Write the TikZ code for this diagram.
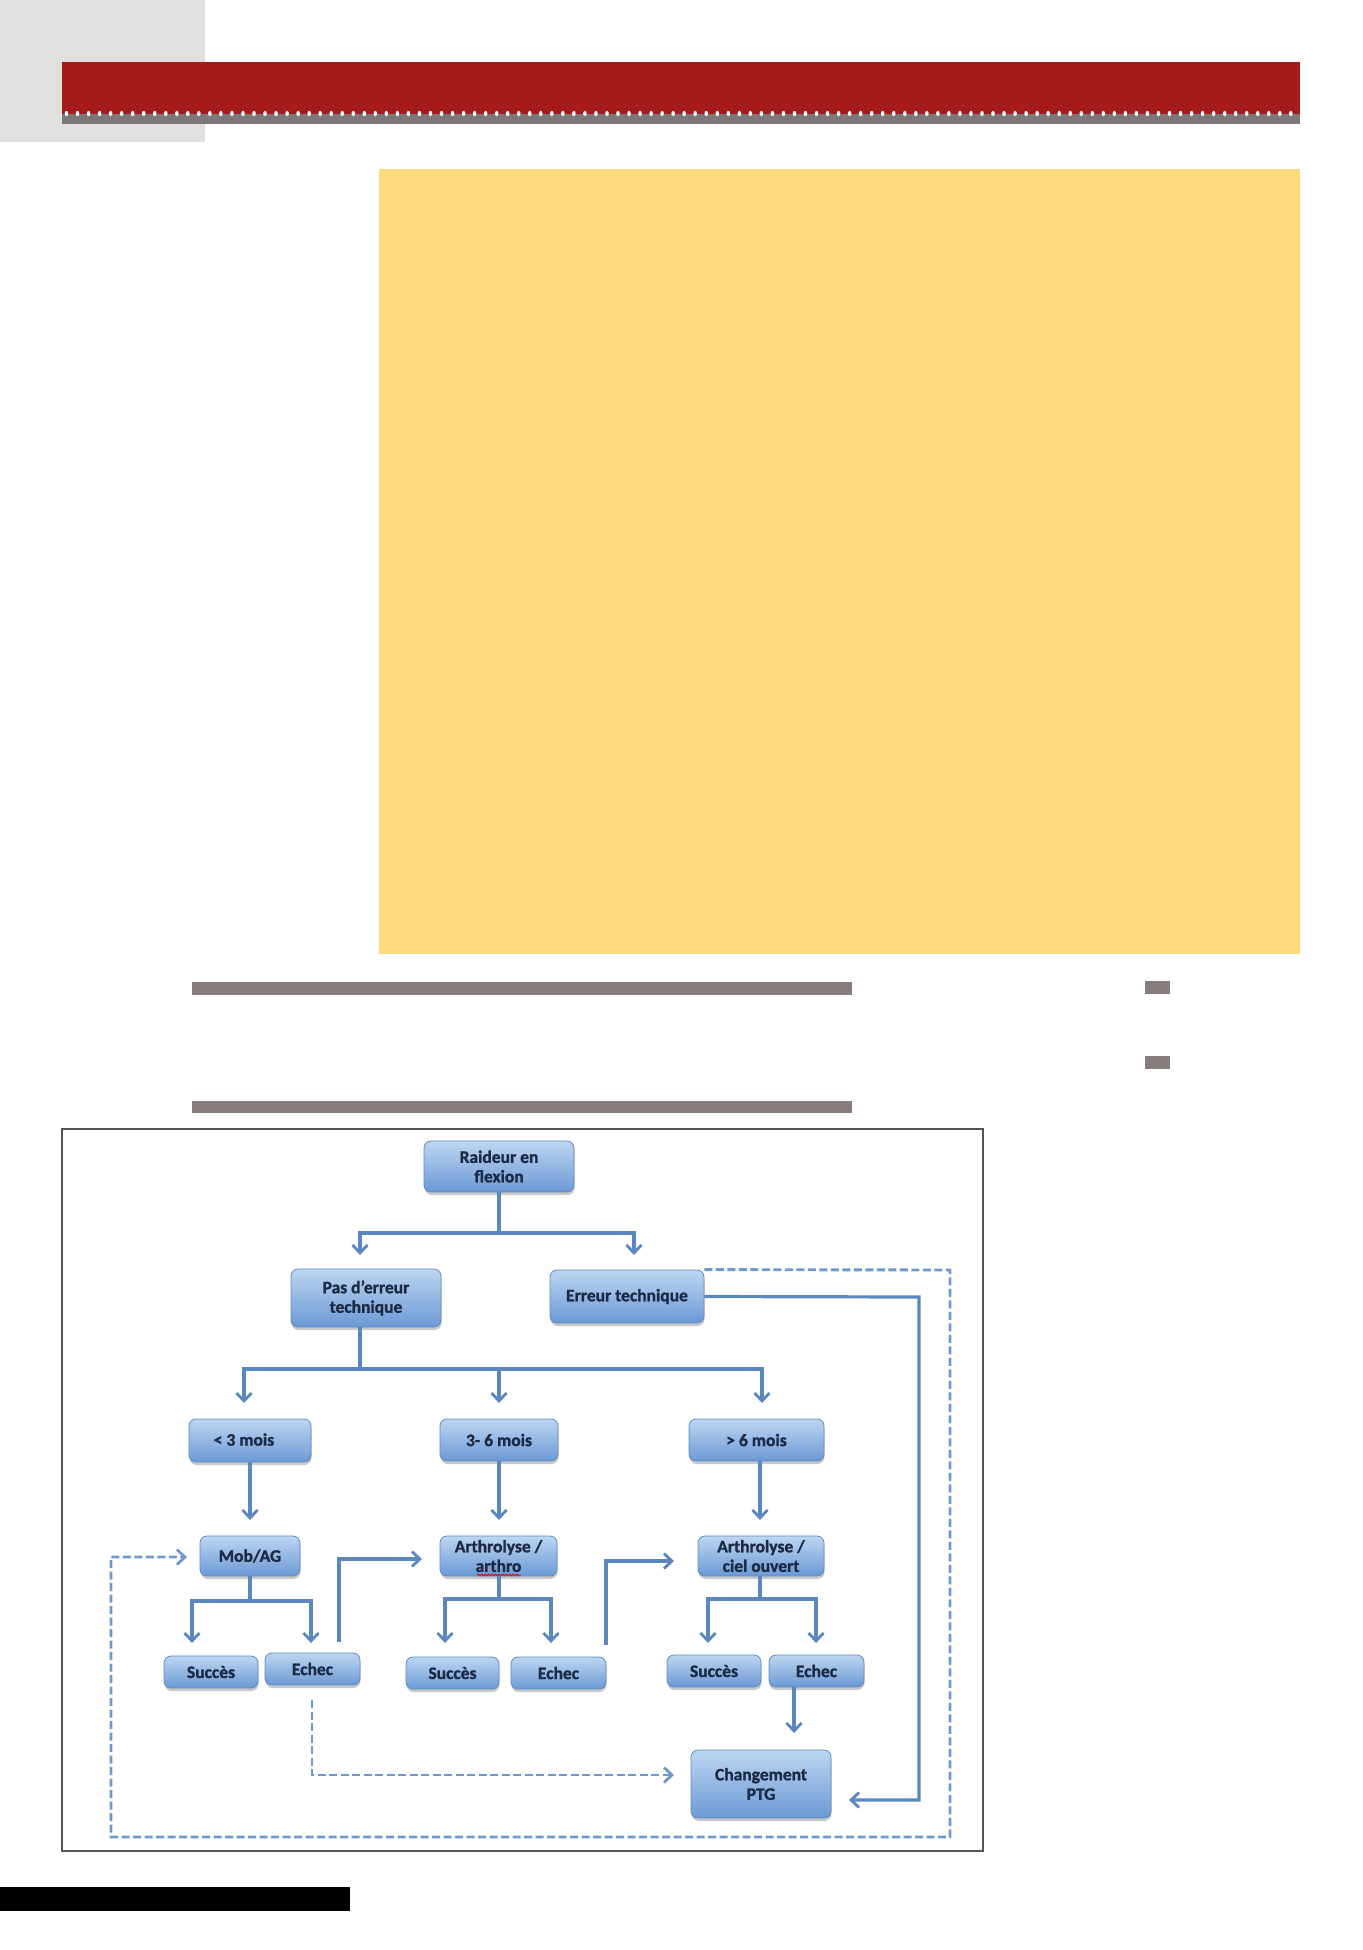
\documentclass[tikz,border=0pt]{standalone}
\usepackage{fontspec}
\setmainfont{Carlito}[FakeBold=1.3]
\usetikzlibrary{arrows.meta,shadows,decorations.pathmorphing}
\definecolor{hdrgray}{HTML}{E2DFDF}
\definecolor{hdrred}{HTML}{A51A1A}
\definecolor{stripgray}{HTML}{7D7777}
\definecolor{yellowbox}{HTML}{FDDA7E}
\definecolor{bargray}{HTML}{857C7B}
\definecolor{boxtop}{HTML}{BDD6F1}
\definecolor{boxbot}{HTML}{6B99D5}
\definecolor{boxedge}{HTML}{5E8AC2}
\definecolor{boxtext}{HTML}{1C2A45}
\definecolor{linec}{HTML}{5B87BF}
\definecolor{dashc}{HTML}{6F98CC}
\definecolor{framec}{HTML}{555555}
\begin{document}
\begin{tikzpicture}[x=1pt,y=-1pt,
  box/.style={rectangle, rounded corners=7pt, draw=boxedge, line width=0.8pt,
    top color=boxtop, bottom color=boxbot, text=boxtext,
    font=\fontsize{17.5}{19.5}\selectfont\bfseries, align=center, inner sep=0pt,
    drop shadow={shadow xshift=0.5pt, shadow yshift=-3pt, opacity=0.3, fill=black!70}},
  sz/.style 2 args={minimum width=#1pt, minimum height=#2pt},
  conn/.style={draw=linec, line width=3.2pt},
  arr/.style={conn, -{Straight Barb[length=8pt,width=15pt,line width=2.8pt]}},
  dashline/.style={draw=dashc, line width=2.9pt, dash pattern=on 8pt off 3.5pt,
    -{Straight Barb[length=8pt,width=15pt,line width=2.8pt]}}
]
\useasboundingbox (0,0) rectangle (1362,1950);
% page decorations
\fill[hdrgray] (0,0) rectangle (205,142);
\fill[hdrred] (62,62) rectangle (1300,114);
\fill[stripgray] (62,114) rectangle (1300,124);
\foreach \i in {0,...,111} \fill[white] (66.5+\i*11.03,113.5) ellipse (1.8 and 2.6);
\fill[yellowbox] (379,169) rectangle (1300,954);
\fill[bargray] (192,982) rectangle (852,995);
\fill[bargray] (192,1101) rectangle (852,1113);
\fill[bargray] (1145,981) rectangle (1170,994);
\fill[bargray] (1145,1056) rectangle (1170,1069);
\fill[black] (0,1887) rectangle (350,1911);
% frame
\draw[framec, line width=1.2pt] (62,1129) rectangle (983,1851);
% nodes
\node[box, sz={150}{51}] (raideur) at (499,1166.5) {Raideur en\\flexion};
\node[box, sz={150}{58}] (pas) at (366,1298) {Pas d’erreur\\technique};
\node[box, sz={154}{53}] (erreur) at (627,1296.5) {Erreur technique};
\node[box, sz={122}{43}] (m3) at (250,1440.5) {\raisebox{2pt}{< 3 mois}\hspace*{12pt}};
\node[box, sz={118}{42}] (m36) at (499,1440) {3- 6 mois};
\node[box, sz={135}{42}] (m6) at (756.5,1440) {> 6 mois};
\node[box, sz={100}{40}] (mob) at (250,1556) {Mob/AG};
\node[box, sz={117}{40}] (arth) at (498.5,1556) {Arthrolyse /\\arthro};
\node[box, sz={126}{40}] (ciel) at (761,1556) {Arthrolyse /\\ciel ouvert};
\node[box, sz={94}{32}] (s1) at (211,1672) {Succès};
\node[box, sz={95}{32}] (e1) at (312.5,1669) {Echec};
\node[box, sz={93}{32}] (s2) at (452.5,1673) {Succès};
\node[box, sz={95}{32}] (e2) at (558.5,1673) {Echec};
\node[box, sz={94}{32}] (s3) at (714,1671) {Succès};
\node[box, sz={95}{32}] (e3) at (816.5,1671) {Echec};
\node[box, sz={140}{68}] (ptg) at (761,1784) {Changement\\PTG};
% spell-check squiggle under "arthro"
\draw[red!85!black, line width=0.8pt, decorate, decoration={snake, amplitude=0.9pt, segment length=3.5pt}] (477,1575) -- (521,1575);
% coordinates
\coordinate (r-j) at (499,1233);
\coordinate (pas-in) at (360,1255);
\coordinate (err-in) at (634,1255);
\coordinate (p-j) at (360,1369);
\coordinate (m3-in) at (244,1403);
\coordinate (m36-in) at (499,1403);
\coordinate (m6-in) at (762,1403);
\coordinate (mob-in) at (250,1520);
\coordinate (arth-in) at (499,1520);
\coordinate (ciel-in) at (760,1520);
\coordinate (mb-j) at (250,1601);
\coordinate (s1-in) at (192,1643);
\coordinate (e1-in) at (311,1643);
\coordinate (ar-j) at (499,1599);
\coordinate (s2-in) at (445,1643);
\coordinate (e2-in) at (551,1643);
\coordinate (ci-j) at (760,1599);
\coordinate (s3-in) at (708,1643);
\coordinate (e3-in) at (816,1643);
\coordinate (e1-out) at (339,1642);
\coordinate (arth-left) at (422,1559);
\coordinate (e2-out) at (606,1645);
\coordinate (ciel-left) at (674,1561);
\coordinate (e3-down) at (794,1733);
\coordinate (er-c1) at (919,1297);
\coordinate (ptg-r) at (849,1800);
\coordinate (dl1) at (950,1270);
\coordinate (dl2) at (111,1837);
\coordinate (mob-left) at (187,1557);
\coordinate (e1-d) at (312,1700);
\coordinate (ptg-dl) at (674,1775);
% connectors
\draw[conn] (raideur.south) -- (r-j);
\draw[arr] (r-j) -| (pas-in);
\draw[arr] (r-j) -| (err-in);
\draw[conn] (p-j |- pas.south) -- (p-j);
\draw[arr] (p-j) -| (m3-in);
\draw[arr] (p-j) -| (m36-in);
\draw[arr] (p-j) -| (m6-in);
\draw[arr] (m3.south) -- (mob-in);
\draw[arr] (m36.south) -- (arth-in);
\draw[arr] (ciel-in |- m6.south) -- (ciel-in);
\draw[conn] (mob.south) -- (mb-j);
\draw[arr] (mb-j) -| (s1-in);
\draw[arr] (mb-j) -| (e1-in);
\draw[conn] (ar-j |- arth.south) -- (ar-j);
\draw[arr] (ar-j) -| (s2-in);
\draw[arr] (ar-j) -| (e2-in);
\draw[conn] (ci-j |- ciel.south) -- (ci-j);
\draw[arr] (ci-j) -| (s3-in);
\draw[arr] (ci-j) -| (e3-in);
\draw[arr] (e1-out) |- (arth-left);
\draw[arr] (e2-out) |- (ciel-left);
\draw[arr] (e3-down |- e3.south) -- (e3-down);
\draw[arr] (erreur.east) -- (er-c1) |- (ptg-r);
\draw[dashline] (erreur.north east) -- (dl1) |- (dl2) |- (mob-left);
\draw[dashline] (e1-d) |- (ptg-dl);
\end{tikzpicture}
\end{document}
